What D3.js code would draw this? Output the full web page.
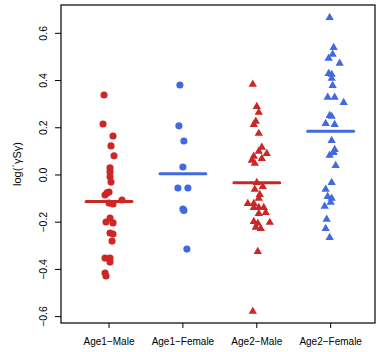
<!DOCTYPE html>
<html><head><meta charset="utf-8">
<script src="https://cdn.jsdelivr.net/npm/d3@7"></script>
<style>body{margin:0;background:#fff}svg{display:block}text{font-family:"Liberation Sans",Arial,sans-serif}</style>
</head><body><svg id="c" width="377" height="352"></svg>
<script>
const categories = ["Age1\u2212Male","Age1\u2212Female","Age2\u2212Male","Age2\u2212Female"];
const yTicks = [-0.6,-0.4,-0.2,0.0,0.2,0.4,0.6];
const groupShape = ["circle","circle","triangle","triangle"];
const groupColor = ["#cd2626","#4169e1","#cd2626","#4169e1"];
// values per group
const age1Male = [0.339,0.216,0.165,0.123,0.081,0.030,0.013,-0.008,-0.030,-0.072,-0.076,-0.085,-0.106,-0.119,-0.123,-0.182,-0.199,-0.203,-0.246,-0.250,-0.280,-0.352,-0.352,-0.369,-0.415,-0.428];
const age1MaleJitter = [-5,-6,4,2,5,1,1,1,2,0,-2,-4,13,0,4,1,-3,4,1,4,3,-4,1,1,-4,-3];
const age1Female = [0.381,0.208,0.144,0.034,-0.055,-0.055,-0.144,-0.150,-0.314];
const age1FemaleJitter = [-3,-4,1,0,-5,5,0,1,4];
const age2Male = [0.386,0.292,0.267,0.229,0.216,0.178,0.119,0.102,0.093,0.081,0.072,0.064,0.051,-0.030,-0.047,-0.059,-0.081,-0.097,-0.119,-0.119,-0.136,-0.136,-0.136,-0.161,-0.157,-0.195,-0.199,-0.203,-0.220,-0.225,-0.322,-0.576];
const age2MaleJitter = [-4,0,2,-1,-3,2,5,2,10,-3,5,-5,-2,0,6,-2,3,2,-9,-3,-3,2,7,2,9,-3,13,1,-1,4,1,-4];
const age2Female = [0.669,0.542,0.513,0.496,0.475,0.432,0.428,0.411,0.381,0.331,0.331,0.309,0.254,0.250,0.220,0.216,0.148,0.110,0.097,0.085,0.042,-0.030,-0.059,-0.089,-0.097,-0.114,-0.131,-0.186,-0.225,-0.263];
const age2FemaleJitter = [-1,3,2,-2,9,-2,1,1,2,-3,4,13,-1,1,-5,4,1,4,3,-1,5,1,-5,-3,1,0,-6,-4,-5,-1];

const groups = [age1Male, age1Female, age2Male, age2Female];
const jitters = [age1MaleJitter, age1FemaleJitter, age2MaleJitter, age2FemaleJitter];

const svg = d3.select("#c");
const L = 61, R = 375, T = 5, B = 323;
const x = d3.scaleLinear().domain([0.35, 4.6]).range([L, R]);
const y = d3.scaleLinear().domain([-0.627, 0.72]).range([B, T]);
const jScale = (x(2) - x(1)) / 74; // jitter units in px per category step

// points
groups.forEach((vals, gi) => {
  const sym = d3.symbol().type(groupShape[gi] === "circle" ? d3.symbolCircle : d3.symbolTriangle)
    .size(groupShape[gi] === "circle" ? 40 : 30);
  svg.append("g").selectAll("path").data(vals).join("path")
    .attr("d", sym)
    .attr("transform", (d, i) => `translate(${x(gi + 1) + jitters[gi][i] * jScale},${y(d) + (groupShape[gi]==="triangle"?0.5:0)})`)
    .attr("fill", groupColor[gi]);
});
// mean lines
groups.forEach((vals, gi) => {
  const m = d3.mean(vals);
  svg.append("line")
    .attr("x1", x(gi + 1 - 0.31)).attr("x2", x(gi + 1 + 0.31))
    .attr("y1", y(m)).attr("y2", y(m))
    .attr("stroke", groupColor[gi]).attr("stroke-width", 3).attr("stroke-linecap", "round");
});

// box
svg.append("rect").attr("x", L).attr("y", T).attr("width", R - L).attr("height", B - T)
  .attr("fill", "none").attr("stroke", "#000").attr("stroke-width", 1.2);

// y axis
const yAxis = svg.append("g");
yTicks.forEach(t => {
  yAxis.append("line").attr("x1", L - 6).attr("x2", L).attr("y1", y(t)).attr("y2", y(t)).attr("stroke", "#000");
  yAxis.append("text").attr("transform", `translate(${L - 14},${y(t)}) rotate(-90)`)
    .attr("text-anchor", "middle").attr("font-size", 10.5).attr("fill", "#000")
    .text(d3.format(".1f")(t).replace("-", "\u2212"));
});
svg.append("text").attr("transform", `translate(21,${(T + B) / 2}) rotate(-90)`)
  .attr("text-anchor", "middle").attr("font-size", 11).text("log(\u02CA\u03B3S\u03B3)");

// x axis
categories.forEach((c, i) => {
  svg.append("line").attr("x1", x(i + 1)).attr("x2", x(i + 1)).attr("y1", B).attr("y2", B + 5).attr("stroke", "#000");
  svg.append("text").attr("x", x(i + 1)).attr("y", B + 22).attr("text-anchor", "middle")
    .attr("font-size", 10).text(c);
});
</script></body></html>
